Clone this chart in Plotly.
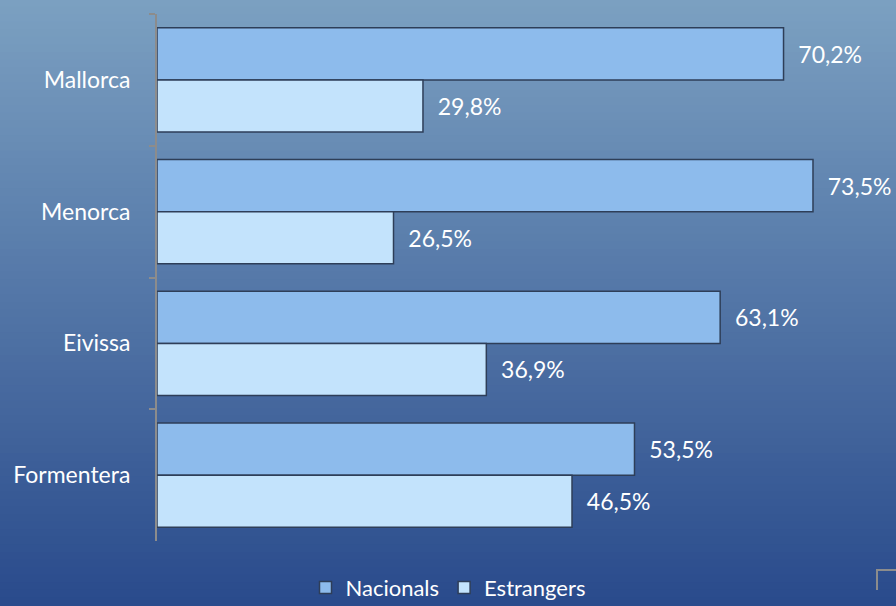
import plotly.graph_objects as go

categories = ["Mallorca", "Menorca", "Eivissa", "Formentera"]
nacionals = [70.2, 73.5, 63.1, 53.5]
estrangers = [29.8, 26.5, 36.9, 46.5]
series_names = ["Nacionals", "Estrangers"]

def fmt(v):
    return ("  " + f"{v:.1f}%").replace(".", ",")

FONT = "Lato"
FS = 23
fig = go.Figure()
fig.add_trace(go.Bar(
    y=categories, x=nacionals, orientation="h", name=series_names[0],
    marker=dict(color="#8DBBEC", line=dict(color="#2E3E58", width=1.5)),
    text=[fmt(v) for v in nacionals], textposition="outside", cliponaxis=False,
    textfont=dict(color="white", size=FS, family=FONT),
))
fig.add_trace(go.Bar(
    y=categories, x=estrangers, orientation="h", name=series_names[1],
    marker=dict(color="#C3E3FC", line=dict(color="#2E3E58", width=1.5)),
    text=[fmt(v) for v in estrangers], textposition="outside", cliponaxis=False,
    textfont=dict(color="white", size=FS, family=FONT),
))

# background gradient built from thin bands (paper coords beyond plot area)
W, H = 896, 606
ml, mr, mt, mb = 157, 25, 14, 65
pw, ph = W - ml - mr, H - mt - mb
top = (123, 160, 193)
bot = (42, 75, 140)
n = 80
shapes = []
y0p = (-mb) / ph
y1p = (ph + mt) / ph
x0p = -ml / pw
x1p = (pw + mr) / pw
for i in range(n):
    t = i / (n - 1)
    c = tuple(int(round(top[k] + (bot[k] - top[k]) * t)) for k in range(3))
    ya = y1p - (y1p - y0p) * i / n
    yb = y1p - (y1p - y0p) * (i + 1) / n
    shapes.append(dict(type="rect", xref="paper", yref="paper", x0=x0p, x1=x1p,
                       y0=yb - 0.002, y1=ya + 0.002, line=dict(width=0),
                       fillcolor=f"rgb{c}", layer="below"))
# small corner bracket at bottom right
shapes.append(dict(type="path", xref="paper", yref="paper",
                   path=f"M {(877-ml)/pw} {-(590-mt-ph)/ph} L {(877-ml)/pw} {-(570-mt-ph)/ph} L {x1p} {-(570-mt-ph)/ph}",
                   line=dict(color="#8C8C8C", width=2), layer="above"))

fig.update_layout(
    width=W, height=H,
    margin=dict(l=ml, r=mr, t=mt, b=mb),
    paper_bgcolor="#2A4B8C", plot_bgcolor="rgba(0,0,0,0)",
    barmode="group", bargap=0.21, bargroupgap=0,
    font=dict(family=FONT, color="white", size=FS),
    shapes=shapes,
    showlegend=True,
    legend=dict(orientation="h", xref="container", x=0.5, xanchor="center",
                yref="container", y=0.03, yanchor="middle",
                font=dict(size=22, color="white", family=FONT),
                bgcolor="rgba(0,0,0,0)", itemwidth=30),
    xaxis=dict(range=[0, 80], showgrid=False, zeroline=False, showticklabels=False,
               showline=False, ticks=""),
    yaxis=dict(autorange="reversed", showgrid=False, zeroline=False,
               showline=True, linecolor="#8C8C8C", linewidth=2,
               ticks="outside", ticklen=6, tickcolor="#8C8C8C", tickwidth=2,
               tickson="boundaries", ticklabelstandoff=20,
               tickfont=dict(size=FS, color="white", family=FONT)),
)

fig.write_html("out.html", config={"displayModeBar": False},
               post_script="document.body.style.margin='0';")
